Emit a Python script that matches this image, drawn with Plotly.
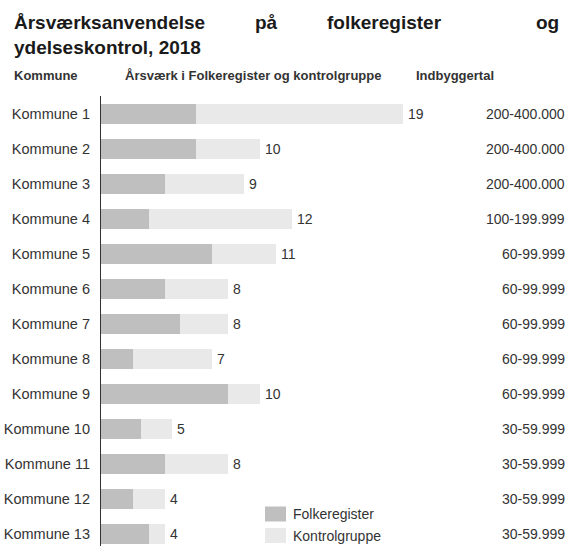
import plotly.graph_objects as go

kommuner = [f"Kommune {i}" for i in range(1, 14)]
folkeregister = [6, 6, 4, 3, 7, 4, 5, 2, 8, 2.5, 4, 2, 3]
kontrolgruppe = [13, 4, 5, 9, 4, 4, 3, 5, 2, 2, 4, 2, 1]
indbyggertal = ["200-400.000", "200-400.000", "200-400.000", "100-199.999",
                "60-99.999", "60-99.999", "60-99.999", "60-99.999", "60-99.999",
                "30-59.999", "30-59.999", "30-59.999", "30-59.999"]
series_names = ["Folkeregister", "Kontrolgruppe"]

W, H = 573, 546
L, R, T, B = 101, 6, 96, 0
PW, PH = W - L - R, H - T - B


def px(x):
    return (x - L) / PW


def py(y):
    return (H - B - y) / PH


FONT = "Liberation Sans, Arial, sans-serif"
DARK = "#bfbfbf"
LIGHT = "#e9e9e9"
COLORS = [DARK, LIGHT]

fig = go.Figure()
for name, vals, col in zip(series_names, [folkeregister, kontrolgruppe], COLORS):
    fig.add_trace(go.Bar(y=kommuner, x=vals, orientation="h", name=name,
                         marker=dict(color=col, line=dict(width=0)), hoverinfo="x+y+name"))

annotations = []
shapes = []
for k, a, b in zip(kommuner, folkeregister, kontrolgruppe):
    tot = a + b
    annotations.append(dict(x=tot, y=k, xref="x", yref="y", text=str(int(tot + 0.5)),
                            showarrow=False, xanchor="left", xshift=3,
                            font=dict(family=FONT, size=14, color="#333333")))
for k, t in zip(kommuner, indbyggertal):
    annotations.append(dict(x=1, y=k, xref="paper", yref="y", text=t,
                            showarrow=False, xanchor="right",
                            font=dict(family=FONT, size=14, color="#333333")))

# title (justified first line)
tfont = dict(family=FONT, size=19, color="#1a1a1a")
for word, x, anchor in [("<b>Årsværksanvendelse</b>", 12, "left"), ("<b>på</b>", 253, "left"),
                        ("<b>folkeregister</b>", 325, "left"), ("<b>og</b>", 561, "right")]:
    annotations.append(dict(x=px(x), y=py(22), xref="paper", yref="paper", text=word,
                            showarrow=False, xanchor=anchor, yanchor="middle", font=tfont))
annotations.append(dict(x=px(12), y=py(47), xref="paper", yref="paper",
                        text="<b>ydelseskontrol, 2018</b>", showarrow=False,
                        xanchor="left", yanchor="middle", font=tfont))

hfont = dict(family=FONT, size=13, color="#333333")
for txt, x in [("<b>Kommune</b>", 12), ("<b>Årsværk i Folkeregister og kontrolgruppe</b>", 123),
               ("<b>Indbyggertal</b>", 414)]:
    annotations.append(dict(x=px(x), y=py(76), xref="paper", yref="paper", text=txt,
                            showarrow=False, xanchor="left", yanchor="middle", font=hfont))

# legend (drawn box + label)
for i, (name, col) in enumerate(zip(series_names, COLORS)):
    cy = 514 + i * 21.5
    shapes.append(dict(type="rect", xref="paper", yref="paper",
                       x0=px(265), x1=px(286), y0=py(cy + 7.5), y1=py(cy - 7.5),
                       fillcolor=col, line=dict(width=0)))
    annotations.append(dict(x=px(291), y=py(cy), xref="paper", yref="paper", text=name,
                            showarrow=False, xanchor="left", yanchor="middle",
                            font=dict(family=FONT, size=14, color="#333333")))

top = -0.5 - 0.5 / 35
fig.update_layout(
    width=W, height=H,
    margin=dict(l=L, r=R, t=T, b=B, pad=0),
    paper_bgcolor="white", plot_bgcolor="white",
    barmode="stack", bargap=1 - 20 / 35,
    font=dict(family=FONT, size=14, color="#333333"),
    xaxis=dict(range=[0, PW / 15.88], visible=False, fixedrange=True),
    yaxis=dict(range=[top + PH / 35, top], showline=True, linecolor="#333333", linewidth=1.2,
               showgrid=False, zeroline=False, ticks="", ticklabelstandoff=7,
               tickfont=dict(family=FONT, size=14.5, color="#333333"), automargin=False,
               fixedrange=True),
    showlegend=False,
    annotations=annotations,
    shapes=shapes,
)

fig.write_html("out.html", config={"displayModeBar": False},
               post_script="document.body.style.margin='0';")
